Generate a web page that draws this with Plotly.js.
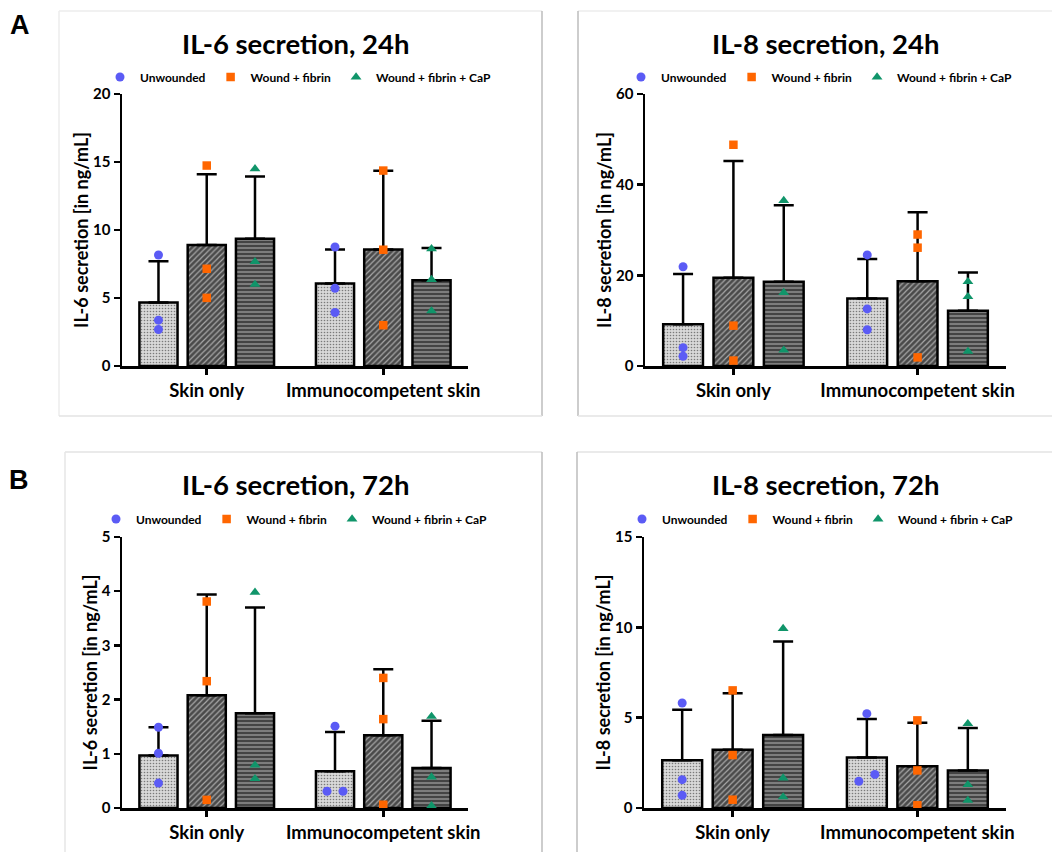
<!DOCTYPE html>
<html><head><meta charset="utf-8">
<script src="https://cdn.plot.ly/plotly-3.0.1.min.js"></script>
<style>html,body{margin:0;padding:0;background:#fff}#chart{width:1052px;height:852px}</style>
</head><body><div id="chart"></div>
<script>
// ---------- DATA ----------
const categories = ['Skin only', 'Immunocompetent skin'];
const seriesNames = ['Unwounded', 'Wound + fibrin', 'Wound + fibrin + CaP'];
const panelTitles = ['IL-6 secretion, 24h', 'IL-8 secretion, 24h', 'IL-6 secretion, 72h', 'IL-8 secretion, 72h'];
const yTitles = ['IL-6 secretion [in ng/mL]', 'IL-8 secretion [in ng/mL]', 'IL-6 secretion [in ng/mL]', 'IL-8 secretion [in ng/mL]'];
const yMax = [20, 60, 5, 15];
const yDtick = [5, 20, 1, 5];
const panelLetters = ['A', 'B'];

// means per series: [Skin only, Immunocompetent skin]
const il6_24h_mean = [[4.67, 6.07], [8.89, 8.57], [9.36, 6.31]];
const il6_24h_sd = [[3.04, 2.50], [5.21, 5.78], [4.57, 2.36]];
const il6_24h_points = [
  [[8.16, 3.37, 2.68], [8.75, 5.72, 3.93]],
  [[14.74, 7.15, 5.01], [14.37, 8.55, 3.00]],
  [[14.50, 7.67, 6.00], [8.62, 6.36, 4.05]]
];

const il8_24h_mean = [[9.21, 14.9], [19.45, 18.7], [18.57, 12.2]];
const il8_24h_sd = [[11.06, 8.7], [25.75, 15.2], [16.88, 8.4]];
const il8_24h_points = [
  [[21.9, 4.05, 2.14], [24.5, 12.6, 8.0]],
  [[48.8, 8.9, 1.2], [29.0, 26.1, 1.9]],
  [[36.5, 16.2, 3.5], [18.6, 15.3, 3.2]]
];

const il6_72h_mean = [[0.97, 0.68], [2.08, 1.34], [1.75, 0.74]];
const il6_72h_sd = [[0.52, 0.72], [1.86, 1.22], [1.95, 0.87]];
const il6_72h_points = [
  [[1.49, 1.01, 0.46], [1.51, 0.31, 0.31]],
  [[3.81, 2.34, 0.15], [2.40, 1.64, 0.06]],
  [[3.98, 0.79, 0.54], [1.69, 0.57, 0.04]]
];

const il8_72h_mean = [[2.64, 2.79], [3.23, 2.31], [4.04, 2.08]];
const il8_72h_sd = [[2.80, 2.14], [3.12, 2.41], [5.17, 2.35]];
const il8_72h_points = [
  [[5.81, 1.57, 0.70], [5.22, 1.86, 1.48]],
  [[6.51, 2.93, 0.46], [4.85, 2.08, 0.15]],
  [[9.93, 1.66, 0.61], [4.67, 1.29, 0.42]]
];

// ---------- STYLE / GEOMETRY ----------
const W = 1052, H = 852;
const FONT = 'Lato, "Open Sans", sans-serif';
const panels = [
  {mean: il6_24h_mean, sd: il6_24h_sd, pts: il6_24h_points, x: [122, 468], y: [94, 366], legX: 122, legY: 77, tX: 295, tY: 43},
  {mean: il8_24h_mean, sd: il8_24h_sd, pts: il8_24h_points, x: [645, 1006], y: [94, 366], legX: 643, legY: 77, tX: 825, tY: 43},
  {mean: il6_72h_mean, sd: il6_72h_sd, pts: il6_72h_points, x: [122, 468], y: [537, 808], legX: 118, legY: 519, tX: 295, tY: 485},
  {mean: il8_72h_mean, sd: il8_72h_sd, pts: il8_72h_points, x: [644, 1006], y: [537, 808], legX: 644, legY: 519, tX: 825, tY: 485}
];
const xRange = [-0.48, 1.48];
const bargap = 0.18, bargroupgap = 0.21;
const slot = (1 - bargap) / 3;
const pointColors = ['#5B5BF5', '#FF6600', '#10956A'];
const pointSymbols = ['circle', 'square', 'triangle-up'];
const pointSizes = [9, 8.5, 9.5];
const barPatterns = [
  {shape: '.', bgcolor: '#d8d8d8', fgcolor: '#7a7a7a', size: 3, solidity: 0.22},
  {shape: '/', bgcolor: '#4a4a4a', fgcolor: '#a8a8a8', size: 4, solidity: 0.3},
  {shape: '-', bgcolor: '#444444', fgcolor: '#8c8c8c', size: 4, solidity: 0.4}
];

const px = v => v / W;
const py = v => 1 - v / H;

function jitter(vals, pxPerY, pxPerX) {
  const off = vals.map(() => 0);
  const idx = vals.map((v, i) => i).sort((a, b) => vals[a] - vals[b]);
  const clusters = [];
  let cur = [idx[0]];
  for (let k = 1; k < idx.length; k++) {
    if ((vals[idx[k]] - vals[idx[k - 1]]) * pxPerY < 8) cur.push(idx[k]);
    else { clusters.push(cur); cur = [idx[k]]; }
  }
  clusters.push(cur);
  clusters.forEach(c => {
    if (c.length > 1) c.forEach((i, j) => { off[i] = (j - (c.length - 1) / 2) * 16 / pxPerX; });
  });
  return off;
}

const traces = [];
const layout = {
  width: W, height: H,
  margin: {l: 0, r: 0, t: 0, b: 0},
  paper_bgcolor: '#fff', plot_bgcolor: 'rgba(0,0,0,0)',
  barmode: 'group', bargap: bargap, bargroupgap: bargroupgap,
  font: {family: FONT, color: '#000', weight: 700},
  annotations: [], shapes: []
};

panels.forEach((p, k) => {
  const n = k + 1;
  const xa = n === 1 ? 'x' : 'x' + n;
  const ya = n === 1 ? 'y' : 'y' + n;
  const lg = n === 1 ? 'legend' : 'legend' + n;
  const pxPerX = (p.x[1] - p.x[0]) / (xRange[1] - xRange[0]);
  const pxPerY = (p.y[1] - p.y[0]) / yMax[k];

  for (let s = 0; s < 3; s++) {
    traces.push({
      type: 'bar', x: [0, 1], y: p.mean[s], xaxis: xa, yaxis: ya,
      showlegend: false, hoverinfo: 'skip',
      marker: {color: barPatterns[s].bgcolor, line: {color: '#000', width: 2.5}, pattern: barPatterns[s]},
      error_y: {type: 'data', symmetric: false, array: p.sd[s], arrayminus: [0, 0], color: '#000', thickness: 2.5, width: 10}
    });
  }
  for (let s = 0; s < 3; s++) {
    const xs = [], ys = [];
    for (let c = 0; c < 2; c++) {
      const vals = p.pts[s][c];
      const off = jitter(vals, pxPerY, pxPerX);
      vals.forEach((v, i) => { xs.push(c + (s - 1) * slot + off[i]); ys.push(v); });
    }
    traces.push({
      type: 'scatter', mode: 'markers', x: xs, y: ys, xaxis: xa, yaxis: ya,
      name: seriesNames[s], legend: lg, showlegend: true,
      marker: {color: pointColors[s], symbol: pointSymbols[s], size: pointSizes[s], line: {width: 0}}
    });
  }

  layout['xaxis' + (n === 1 ? '' : n)] = {
    domain: [px(p.x[0]), px(p.x[1])], anchor: ya, range: xRange, fixedrange: true,
    tickvals: [0, 1], ticktext: categories, ticks: 'outside', ticklen: 6, tickwidth: 2.5, tickcolor: '#000',
    showline: true, linewidth: 2.5, linecolor: '#000', showgrid: false, zeroline: false,
    tickfont: {family: FONT, size: 18.5, weight: 700, color: '#000'}
  };
  layout['yaxis' + (n === 1 ? '' : n)] = {
    domain: [py(p.y[1]), py(p.y[0])], anchor: xa, range: [0, yMax[k]], dtick: yDtick[k], fixedrange: true,
    ticks: 'outside', ticklen: 6, tickwidth: 2.5, tickcolor: '#000',
    showline: true, linewidth: 2.5, linecolor: '#000', showgrid: false, zeroline: false,
    tickfont: {family: FONT, size: 15, weight: 700, color: '#000'},
    title: {text: yTitles[k], font: {family: FONT, size: 18, weight: 700, color: '#000'}, standoff: 0}
  };
  layout[lg] = {
    orientation: 'h', x: px(p.legX - 22), y: py(p.legY), xanchor: 'left', yanchor: 'middle',
    bgcolor: 'rgba(0,0,0,0)', borderwidth: 0, traceorder: 'normal',
    font: {family: FONT, size: 12, weight: 700, color: '#000'}
  };
  layout.annotations.push({
    text: panelTitles[k], xref: 'paper', yref: 'paper', x: px(p.tX), y: py(p.tY),
    xanchor: 'center', yanchor: 'middle', showarrow: false,
    font: {family: FONT, size: 27.5, weight: 700, color: '#000'}
  });
});

layout.annotations.push(
  {text: panelLetters[0], xref: 'paper', yref: 'paper', x: px(20), y: py(25), xanchor: 'center', yanchor: 'middle', showarrow: false,
   font: {family: 'Liberation Sans, Arial, sans-serif', size: 27, weight: 700, color: '#000'}},
  {text: panelLetters[1], xref: 'paper', yref: 'paper', x: px(19), y: py(480), xanchor: 'center', yanchor: 'middle', showarrow: false,
   font: {family: 'Liberation Sans, Arial, sans-serif', size: 27, weight: 700, color: '#000'}}
);

// panel frames
const frameLines = [
  [59, 11, 542, 11, '#ececec'], [59, 11, 59, 416, '#ececec'], [542, 11, 542, 416, '#bdbdbd'], [59, 416, 542, 416, '#e3e3e3'],
  [578, 11, 1052, 11, '#ececec'], [578, 11, 578, 416, '#bdbdbd'], [578, 416, 1052, 416, '#e3e3e3'],
  [65, 452, 542, 452, '#e3e3e3'], [65, 452, 65, 852, '#e6e6e6'], [542, 452, 542, 852, '#bdbdbd'],
  [577, 452, 1052, 452, '#e3e3e3'], [577, 452, 577, 852, '#bdbdbd']
];
frameLines.forEach(f => layout.shapes.push({
  type: 'line', xref: 'paper', yref: 'paper', x0: px(f[0]), y0: py(f[1]), x1: px(f[2]), y1: py(f[3]),
  line: {color: f[4], width: 1.5}, layer: 'below'
}));

Plotly.newPlot('chart', traces, layout, {displayModeBar: false, staticPlot: true});
</script>
</body></html>
